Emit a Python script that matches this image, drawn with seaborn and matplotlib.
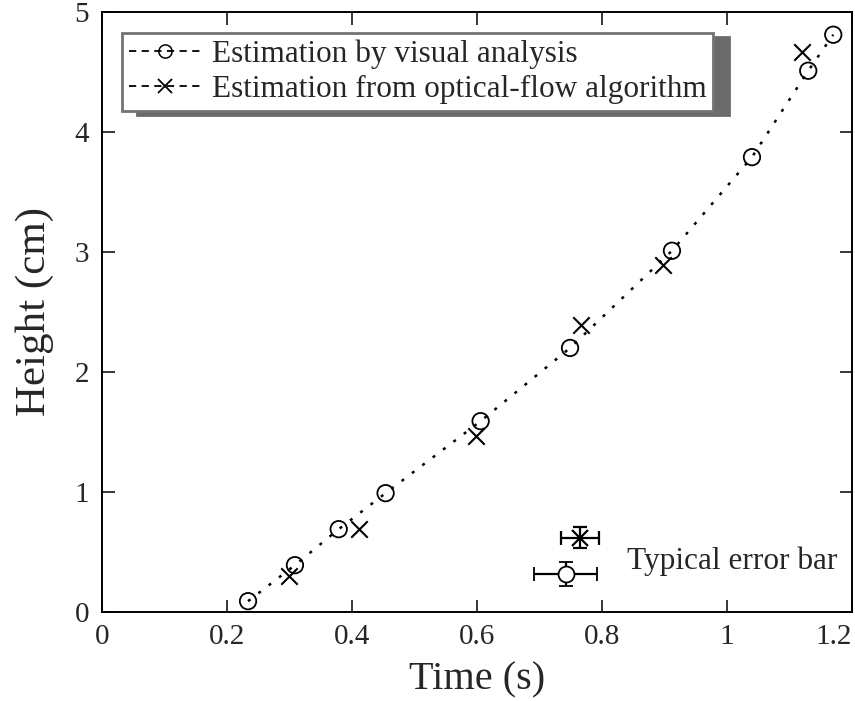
import matplotlib
matplotlib.use("Agg")
import matplotlib.pyplot as plt
import seaborn as sns
import pandas as pd
from matplotlib.lines import Line2D

# Data
visual_time = [0.234, 0.309, 0.379, 0.454, 0.606, 0.749, 0.912, 1.040, 1.130, 1.170]
visual_height = [0.09, 0.39, 0.69, 0.99, 1.59, 2.20, 3.01, 3.79, 4.51, 4.81]
flow_time = [0.300, 0.411, 0.598, 0.766, 0.898, 1.120]
flow_height = [0.30, 0.69, 1.47, 2.39, 2.89, 4.67]

err_circle = dict(x=0.742, y=0.32, xerr=0.05, yerr=0.10)
err_cross = dict(x=0.765, y=0.62, xerr=0.03, yerr=0.09)

x_ticks = [0, 0.2, 0.4, 0.6, 0.8, 1.0, 1.2]
x_ticklabels = ["0", "0.2", "0.4", "0.6", "0.8", "1", "1.2"]
y_ticks = [0, 1, 2, 3, 4, 5]

sns.set_style("ticks")
plt.rcParams["font.family"] = ["Liberation Serif", "DejaVu Serif"]
plt.rcParams["mathtext.fontset"] = "dejavuserif"

fig = plt.figure(figsize=(8.55, 7.01), dpi=100)
ax = fig.add_axes([0.119, 0.127, 0.8775, 0.856])

df_v = pd.DataFrame({"t": visual_time, "h": visual_height})
df_f = pd.DataFrame({"t": flow_time, "h": flow_height})

sns.lineplot(data=df_v, x="t", y="h", ax=ax, sort=False, color="black",
             linestyle=(0, (1.2, 4.0)), linewidth=1.8, estimator=None)
sns.scatterplot(data=df_v, x="t", y="h", ax=ax, marker="o", s=140,
                facecolors="none", edgecolor="black", linewidth=1.3, zorder=3)
sns.scatterplot(data=df_f, x="t", y="h", ax=ax, marker="x", s=140,
                color="black", linewidth=1.5, zorder=3)

# typical error bars
ax.errorbar(err_circle["x"], err_circle["y"], xerr=err_circle["xerr"], yerr=err_circle["yerr"],
            fmt="o", mfc="white", mec="black", ms=11.5, mew=1.3, ecolor="black",
            elinewidth=1.6, capsize=5, capthick=1.6, zorder=4)
ax.errorbar(err_cross["x"], err_cross["y"], xerr=err_cross["xerr"], yerr=err_cross["yerr"],
            fmt="x", mec="black", ms=11, mew=1.6, ecolor="black",
            elinewidth=1.6, capsize=5, capthick=1.6, zorder=4)
ax.text(0.84, 0.42, "Typical error bar", fontsize=22.5, va="center", ha="left")

ax.set_xlim(0, 1.2)
ax.set_ylim(0, 5)
ax.set_xticks(x_ticks)
ax.set_xticklabels(x_ticklabels)
ax.set_yticks(y_ticks)
ax.tick_params(direction="in", length=9, width=1.3, labelsize=21, top=True, right=True, pad=9)
xt = ax.get_xticklabels()
xt[-1].set_horizontalalignment("right")
for s in ax.spines.values():
    s.set_visible(True)
    s.set_linewidth(1.4)
    s.set_color("black")

ax.set_xlabel("Time (s)", fontsize=29, labelpad=8)
ax.set_ylabel("Height (cm)", fontsize=31, labelpad=15)

handles = [
    Line2D([], [], color="black", linestyle=(0, (4, 3)), linewidth=1.3, marker="o",
           mfc="none", mec="black", ms=9.5, mew=1.1),
    Line2D([], [], color="black", linestyle=(0, (4, 3)), linewidth=1.3, marker="x",
           mec="black", ms=9.5, mew=1.3),
]
leg = ax.legend(handles, ["Estimation by visual analysis", "Estimation from optical-flow algorithm"],
                loc="upper left", bbox_to_anchor=(0.027, 0.965), fontsize=22.5, frameon=True,
                fancybox=False, shadow={"color": "0.42", "alpha": 1.0, "ox": 11, "oy": -3},
                framealpha=1, edgecolor="0.45", handlelength=2.3, handletextpad=0.35,
                borderpad=0.22, labelspacing=0.18, borderaxespad=0)
leg.get_frame().set_linewidth(2.0)

fig.savefig("out.png", dpi=100)
